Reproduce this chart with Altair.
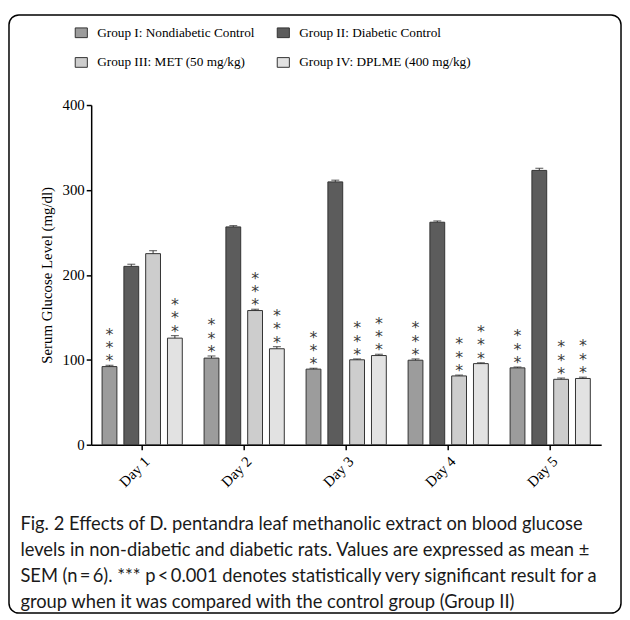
import altair as alt
import pandas as pd

days = ["Day 1", "Day 2", "Day 3", "Day 4", "Day 5"]
groups = [
    "Group I: Nondiabetic Control",
    "Group II: Diabetic Control",
    "Group III: MET (50 mg/kg)",
    "Group IV: DPLME (400 mg/kg)",
]
g1_vals = [92, 102, 89, 99.5, 90.5]
g2_vals = [210, 256.5, 309.5, 262, 323]
g3_vals = [225, 158, 100, 81, 77]
g4_vals = [125.5, 113, 105, 95.5, 78]
g1_sem = [1.5, 2.5, 1, 1.5, 1]
g2_sem = [2.5, 1.5, 2, 1.5, 2.5]
g3_sem = [3.5, 1.5, 1, 1, 1.5]
g4_sem = [3, 2.5, 1.5, 1, 1.5]
g1_sig = [1, 1, 1, 1, 1]
g2_sig = [0, 0, 0, 0, 0]
g3_sig = [0, 1, 1, 1, 1]
g4_sig = [1, 1, 1, 1, 1]
fills = ["#9c9c9c", "#5c5c5c", "#cdcdcd", "#e2e2e2"]

caption = [
    "Fig. 2 Effects of D. pentandra leaf methanolic extract on blood glucose",
    "levels in non-diabetic and diabetic rats. Values are expressed as mean \u00b1",
    "SEM (n\u2009=\u20096). *** p\u2009<\u20090.001 denotes statistically very significant result for a",
    "group when it was compared with the control group (Group II)",
]

rows = []
for g, vals, sems, sigs in zip(groups, [g1_vals, g2_vals, g3_vals, g4_vals],
                               [g1_sem, g2_sem, g3_sem, g4_sem],
                               [g1_sig, g2_sig, g3_sig, g4_sig]):
    for d, v, s, k in zip(days, vals, sems, sigs):
        rows.append(dict(day=d, group=g, value=v, top=v + s,
                         star="*" if k else ""))
df = pd.DataFrame(rows)

SERIF = "Liberation Serif"

x = alt.X("day:N", sort=days,
          scale=alt.Scale(paddingInner=0, paddingOuter=0),
          axis=alt.Axis(labelAngle=-45, labelPadding=4,
                        title=caption, titleX=-72, titleY=71, titleAlign="left",
                        titleAnchor="start", titleBaseline="top", titleAngle=0,
                        titleFont="Lato", titleFontSize=18.5,
                        titleLineHeight=26, titleColor="#1a1a1a", titleFontWeight="normal"))
xo = alt.XOffset("group:N", sort=groups,
                 scale=alt.Scale(paddingInner=0.32, paddingOuter=0.5))
color = alt.Color("group:N", sort=groups,
                  scale=alt.Scale(domain=groups, range=fills),
                  legend=alt.Legend(title=None, orient="none", legendX=-17, legendY=-80,
                                    direction="horizontal",
                                    columns=2, columnPadding=20, rowPadding=16,
                                    labelFont=SERIF, labelFontSize=13.4, labelColor="black",
                                    labelLimit=0, labelOffset=9,
                                    symbolType="M-1,-0.8H1V0.8H-1Z", symbolSize=150,
                                    symbolStrokeColor="#333", symbolStrokeWidth=1,
                                    symbolOpacity=1))

base = alt.Chart(df)
bars = base.mark_bar(stroke="#333", strokeWidth=1, opacity=1).encode(
    x=x, xOffset=xo,
    y=alt.Y("value:Q", scale=alt.Scale(domain=[0, 400]),
            title="Serum Glucose Level (mg/dl)",
            axis=alt.Axis(values=[0, 100, 200, 300, 400], titlePadding=8)),
    color=color)
err = base.mark_rule(color="#333", strokeWidth=1).encode(
    x=x, xOffset=xo, y="value:Q", y2="top:Q")
cap = base.mark_tick(color="#333", size=8, thickness=1.2, orient="horizontal").encode(
    x=x, xOffset=xo, y="top:Q")
star_layers = []
for off in [1, -12.5, -26]:
    star_layers.append(
        base.mark_text(baseline="alphabetic", dy=off, font="DejaVu Sans",
                       fontSize=16, color="#3a3a3a").encode(
            x=x, xOffset=xo, y="top:Q", text="star:N"))
border = alt.Chart(pd.DataFrame({"k": [0]})).mark_rect(
    fill="transparent", stroke="black", strokeWidth=1.5, cornerRadius=10).encode(
    x=alt.value(-83), x2=alt.value(535), y=alt.value(-91), y2=alt.value(513))

chart = alt.layer(border, bars, err, cap, *star_layers).properties(
    width=515, height=343,
    padding={"left": 84, "top": 95, "right": 21, "bottom": 172},
    autosize=alt.AutoSizeParams(type="none"),
).configure_view(stroke=None).configure_axis(
    grid=False, domainColor="black", domainWidth=1.5, tickColor="black", tickWidth=1.5,
    tickSize=5, labelFont=SERIF, labelFontSize=15, labelColor="black",
    titleFont=SERIF, titleFontSize=15, titleFontWeight="normal", titleColor="black")

chart.save("out.html", embed_options={"renderer": "svg", "actions": False})
